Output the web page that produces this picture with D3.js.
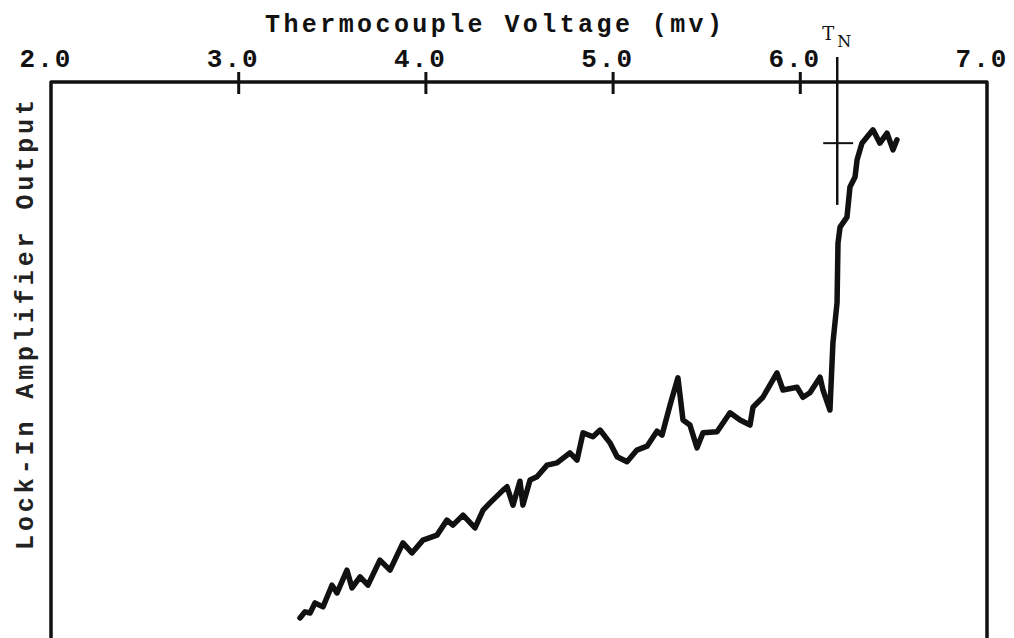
<!DOCTYPE html>
<html>
<head>
<meta charset="utf-8">
<script src="https://cdn.jsdelivr.net/npm/d3@7"></script>
<style>
	body { margin: 0; background: #fff; }
	svg { display: block; }
</style>
</head>
<body>
<script>
// Size of the page and the plot frame
const w = 1014;
const h = 638;
const frame = { top: 82, bottom: 638, left: 51, right: 987 };

// Top axis ticks (mV)
const tickValues = [2.0, 3.0, 4.0, 5.0, 6.0, 7.0];
const tickLabels = ["2.0", "3.0", "4.0", "5.0", "6.0", "7.0"];

// Néel temperature marker
const tNeel = 6.2;

// Trace: thermocouple voltage (mV) and lock-in output (arbitrary units)
const voltage = [
	3.330, 3.357, 3.384, 3.410, 3.453, 3.501, 3.528, 3.581, 3.608, 3.651,
	3.693, 3.757, 3.811, 3.880, 3.928, 3.987, 4.062, 4.115, 4.147, 4.201,
	4.265, 4.308, 4.345, 4.415, 4.436, 4.468, 4.505, 4.521, 4.559, 4.596,
	4.650, 4.703, 4.772, 4.810, 4.842, 4.895, 4.933, 4.986, 5.024, 5.077,
	5.130, 5.184, 5.237, 5.264, 5.307, 5.349, 5.376, 5.413, 5.451, 5.483,
	5.558, 5.627, 5.681, 5.734, 5.750, 5.803, 5.878, 5.910, 5.985, 6.017,
	6.054, 6.108, 6.124, 6.161, 6.177, 6.199, 6.204, 6.215, 6.252, 6.268,
	6.295, 6.306, 6.332, 6.359, 6.391, 6.428, 6.466, 6.498, 6.519,
];
const output = [
	3.6, 4.7, 4.5, 6.3, 5.6, 9.5, 8.1, 12.2, 9.0, 11.0,
	9.5, 14.0, 12.2, 17.1, 15.3, 17.6, 18.5, 21.2, 20.3, 22.1,
	19.8, 23.0, 24.3, 26.6, 27.2, 23.9, 28.2, 23.9, 28.4, 29.0,
	31.1, 31.5, 33.3, 32.0, 36.9, 36.2, 37.4, 35.1, 32.6, 31.7,
	33.8, 34.5, 37.2, 36.5, 41.9, 46.8, 39.2, 38.3, 34.2, 36.9,
	37.1, 40.5, 39.2, 38.3, 41.5, 43.3, 47.7, 44.6, 45.1, 43.3,
	44.1, 46.9, 44.6, 41.0, 53.1, 60.3, 71.0, 73.9, 75.7, 81.1,
	82.9, 86.0, 89.0, 90.1, 91.4, 89.0, 90.8, 87.8, 89.6,
];
const trace = voltage.map((v, i) => ({ v, out: output[i] }));

const ink = "#111";
const font = "'Liberation Mono', 'DejaVu Sans Mono', monospace";

const svg = d3.select("body").append("svg").attr("width", w).attr("height", h);

// Scales
const xScale = d3.scaleLinear().domain([2, 7]).range([frame.left, frame.right]);
const yScale = d3.scaleLinear().domain([0, 100]).range([frame.bottom, frame.top]);

// Frame: top, left and right sides (open at the bottom)
svg
	.append("path")
	.attr(
		"d",
		`M${frame.left},${frame.bottom}V${frame.top}H${frame.right}V${frame.bottom}`,
	)
	.attr("fill", "none")
	.attr("stroke", ink)
	.attr("stroke-width", 3.5)
	.attr("stroke-linejoin", "round");

// Top axis ticks crossing the frame line
const xAxis = d3
	.axisTop(xScale)
	.tickValues(tickValues.slice(1, -1))
	.tickSizeOuter(0)
	.tickFormat("");
const axisG = svg
	.append("g")
	.attr("transform", `translate(0, ${frame.top})`)
	.call(xAxis);
axisG.select(".domain").remove();
axisG
	.selectAll(".tick line")
	.attr("y1", -10)
	.attr("y2", 12)
	.attr("stroke", ink)
	.attr("stroke-width", 3);

// Tick labels
svg
	.selectAll(".tick-label")
	.data(tickValues)
	.enter()
	.append("text")
	.attr("class", "tick-label")
	.attr("x", (d) => xScale(d) - 5)
	.attr("y", 67)
	.attr("text-anchor", "middle")
	.attr("font-family", font)
	.attr("font-weight", "bold")
	.attr("font-size", 26)
	.attr("letter-spacing", 2)
	.attr("fill", ink)
	.text((d, i) => tickLabels[i]);

// Axis title
svg
	.append("text")
	.attr("x", 265)
	.attr("y", 32)
	.attr("textLength", 457)
	.attr("lengthAdjust", "spacing")
	.attr("font-family", font)
	.attr("font-weight", "bold")
	.attr("font-size", 25)
	.attr("fill", ink)
	.text("Thermocouple Voltage (mv)");

// Y label
svg
	.append("text")
	.attr("transform", `translate(33, 325) rotate(-90)`)
	.attr("text-anchor", "middle")
	.attr("textLength", 450)
	.attr("lengthAdjust", "spacing")
	.attr("font-family", font)
	.attr("font-weight", "bold")
	.attr("font-size", 25)
	.attr("fill", "#222")
	.text("Lock-In Amplifier Output");

// T_N marker
svg
	.append("line")
	.attr("x1", xScale(tNeel))
	.attr("x2", xScale(tNeel))
	.attr("y1", yScale(104.5))
	.attr("y2", yScale(77.9))
	.attr("stroke", ink)
	.attr("stroke-width", 2.5);
svg
	.append("line")
	.attr("x1", xScale(tNeel - 0.075))
	.attr("x2", xScale(tNeel + 0.085))
	.attr("y1", yScale(89))
	.attr("y2", yScale(89))
	.attr("stroke", ink)
	.attr("stroke-width", 2);

const tn = svg
	.append("text")
	.attr("x", xScale(tNeel) - 15)
	.attr("y", 40)
	.attr("font-family", "'DejaVu Serif', serif")
	.attr("font-size", 18)
	.attr("fill", ink);
tn.append("tspan").text("T");
tn.append("tspan").attr("dx", 3).attr("dy", 7).attr("font-size", 16).text("N");

// Trace
const line = d3
	.line()
	.x((d) => xScale(d.v))
	.y((d) => yScale(d.out));

svg
	.append("path")
	.datum(trace)
	.attr("d", line)
	.attr("fill", "none")
	.attr("stroke", ink)
	.attr("stroke-width", 5.5)
	.attr("stroke-linejoin", "round")
	.attr("stroke-linecap", "round");
</script>
</body>
</html>
